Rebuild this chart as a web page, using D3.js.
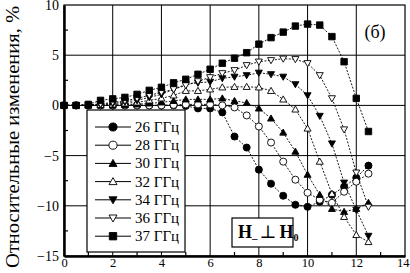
<!DOCTYPE html>
<html>
<head>
<meta charset="utf-8">
<script src="https://cdn.jsdelivr.net/npm/d3@7"></script>
<style>
  body { margin: 0; background: #fff; }
  svg { display: block; }
  text { font-family: 'Liberation Serif', 'DejaVu Serif', serif; fill: #000; }
</style>
</head>
<body>
<svg width="410" height="273"></svg>
<script>
const xs = [0, 0.5, 1, 1.5, 2, 2.5, 3, 3.5, 4, 4.5, 5, 5.5, 6, 6.5, 7, 7.5, 8, 8.5, 9, 9.5, 10, 10.5, 11, 11.5, 12, 12.5];

const f26 = [0, 0, 0, 0, 0, 0, 0, 0, 0, 0, -0.05, -0.3, -0.3, -0.7, -3.1, -4.2, -6.4, -7.8, -9.0, -9.9, -10.1, -9.6, -8.9, -8.1, -7.2, -6.0];
const f28 = [0, 0, 0, 0, 0, 0, 0, 0, 0, 0.05, 0.1, 0.1, 0.1, 0.0, -0.2, -1.0, -2.1, -3.7, -5.6, -7.4, -8.7, -9.4, -9.7, -8.6, -7.6, -6.8];
const f30 = [0, 0, 0, 0, 0, 0.05, 0.1, 0.2, 0.3, 0.45, 0.6, 0.6, 0.6, 0.7, 0.45, 0.25, -0.3, -1.3, -2.7, -4.6, -6.9, -8.9, -10.3, -10.6, -10.3, -9.7];
const f32 = [0, 0, 0, 0.05, 0.1, 0.2, 0.3, 0.5, 0.7, 1.0, 1.45, 1.45, 1.6, 1.8, 1.85, 1.85, 1.8, 1.45, 0.6, -0.4, -2.3, -5.6, -8.8, -11.1, -12.9, -13.6];
const f34 = [0, 0, 0, 0.1, 0.2, 0.35, 0.5, 0.8, 1.1, 1.6, 2.1, 2.25, 2.35, 2.7, 2.85, 3.0, 3.25, 3.1, 2.85, 2.1, 1.0, -1.05, -3.8, -7.7, -10.4, -13.0];
const f36 = [0, 0, 0.05, 0.15, 0.3, 0.45, 0.7, 1.0, 1.3, 1.6, 2.0, 2.4, 2.8, 3.2, 3.5, 4.0, 4.35, 4.5, 4.65, 4.6, 4.2, 3.0, 0.7, -2.4, -6.7, -10.1];
const f37 = [0, 0, 0.1, 0.5, 0.65, 0.8, 1.1, 1.5, 1.8, 2.25, 2.6, 3.1, 3.6, 4.2, 4.7, 5.25, 6.1, 6.75, 7.3, 7.9, 8.1, 8.0, 6.85, 4.35, 0.7, -2.6];

const seriesNames = ['26 ГГц', '28 ГГц', '30 ГГц', '32 ГГц', '34 ГГц', '36 ГГц', '37 ГГц'];
const seriesValues = [f26, f28, f30, f32, f34, f36, f37];
const seriesMarkers = ['circle', 'circle', 'triUp', 'triUp', 'triDown', 'triDown', 'square'];
const seriesFilled = [true, false, true, false, true, false, true];

const xTicks = [0, 2, 4, 6, 8, 10, 12, 14];
const yTicks = [-15, -10, -5, 0, 5, 10];

const yTitle = 'Относительные изменения, %';
const panelLabel = '(б)';

const serif = "'Liberation Serif', 'DejaVu Serif', serif";

const svg = d3.select('svg');
const margin = { top: 5, left: 64, right: 5, bottom: 17 };
const width = +svg.attr('width');
const height = +svg.attr('height');
const innerWidth = width - margin.left - margin.right;
const innerHeight = height - margin.top - margin.bottom;

const root = svg.append('g')
  .attr('transform', `translate(${margin.left}, ${margin.top})`);

const xScale = d3.scaleLinear().domain([0, 14]).range([0, innerWidth]);
const yScale = d3.scaleLinear().domain([-15, 10]).range([innerHeight, 0]);

// grid
root.append('g')
  .selectAll('line')
  .data(xTicks.slice(1, -1))
  .enter().append('line')
    .attr('x1', d => xScale(d)).attr('x2', d => xScale(d))
    .attr('y1', 0).attr('y2', innerHeight)
    .attr('stroke', '#000').attr('stroke-width', 1);
root.append('g')
  .selectAll('line')
  .data(yTicks.slice(1, -1))
  .enter().append('line')
    .attr('y1', d => yScale(d)).attr('y2', d => yScale(d))
    .attr('x1', 0).attr('x2', innerWidth)
    .attr('stroke', '#000').attr('stroke-width', 1);

// frame top / right
root.append('rect')
  .attr('x', 0).attr('y', 0)
  .attr('width', innerWidth).attr('height', innerHeight)
  .attr('fill', 'none').attr('stroke', '#000').attr('stroke-width', 1.2);

// minor ticks
const xMinor = d3.range(1, 14, 2);
const yMinor = d3.range(-12.5, 10, 5);
root.append('g').selectAll('line')
  .data(xMinor).enter().append('line')
    .attr('x1', d => xScale(d)).attr('x2', d => xScale(d))
    .attr('y1', innerHeight).attr('y2', innerHeight - 4)
    .attr('stroke', '#000').attr('stroke-width', 1.2);
root.append('g').selectAll('line')
  .data(yMinor).enter().append('line')
    .attr('y1', d => yScale(d)).attr('y2', d => yScale(d))
    .attr('x1', 0).attr('x2', 4)
    .attr('stroke', '#000').attr('stroke-width', 1.2);

// axes
const xAxis = d3.axisBottom(xScale).tickValues(xTicks).tickSize(0).tickPadding(0);
const yAxis = d3.axisLeft(yScale).tickValues(yTicks).tickSize(0).tickPadding(5);

const xAxisGroup = root.append('g')
  .attr('transform', `translate(0, ${innerHeight})`)
  .call(xAxis);
const yAxisGroup = root.append('g').call(yAxis);
[xAxisGroup, yAxisGroup].forEach(g => {
  g.attr('font-family', serif).attr('font-size', 14);
  g.select('.domain').attr('stroke', '#000').attr('stroke-width', 2.5);
});
xAxisGroup.attr('font-size', 12.5);
xAxisGroup.selectAll('text').attr('y', 11).attr('dy', 0);
xAxisGroup.selectAll('.tick')
  .filter(d => d === 14)
  .select('text').attr('text-anchor', 'end').attr('dx', 4);

// markers
const markerPath = (type, s) => {
  if (type === 'circle') return d3.symbol(d3.symbolCircle, s * s * 0.8)();
  if (type === 'square') return d3.symbol(d3.symbolSquare, s * s * 0.85)();
  const h = s * 0.5;
  if (type === 'triUp') return `M0,${-h}L${h},${h * 0.75}L${-h},${h * 0.75}Z`;
  return `M0,${h}L${h},${-h * 0.75}L${-h},${-h * 0.75}Z`;
};

const line = d3.line()
  .x(d => xScale(d[0]))
  .y(d => yScale(d[1]));

seriesValues.forEach((vals, i) => {
  const pts = xs.map((x, j) => [x, vals[j]]);
  const g = root.append('g');
  g.append('path')
    .datum(pts)
    .attr('d', line)
    .attr('fill', 'none')
    .attr('stroke', '#000')
    .attr('stroke-width', 0.9)
    .attr('stroke-dasharray', '2,1.5');
  g.selectAll('path.m')
    .data(pts)
    .enter().append('path')
      .attr('class', 'm')
      .attr('transform', d => `translate(${xScale(d[0])}, ${yScale(d[1])})`)
      .attr('d', markerPath(seriesMarkers[i], 7))
      .attr('fill', seriesFilled[i] ? '#000' : '#fff')
      .attr('stroke', '#000')
      .attr('stroke-width', 0.9);
});

// legend
const legend = root.append('g');
legend.append('rect')
  .attr('x', 23).attr('y', 105)
  .attr('width', 98).attr('height', 142)
  .attr('fill', '#fff').attr('stroke', '#000').attr('stroke-width', 1.2);

seriesNames.forEach((name, i) => {
  const yy = 122 + i * 18.2;
  const g = legend.append('g').attr('transform', `translate(0, ${yy})`);
  g.append('line')
    .attr('x1', 31).attr('x2', 67).attr('y1', 0).attr('y2', 0)
    .attr('stroke', '#000').attr('stroke-width', 1);
  g.append('path')
    .attr('transform', 'translate(49, 0)')
    .attr('d', markerPath(seriesMarkers[i], 8))
    .attr('fill', seriesFilled[i] ? '#000' : '#fff')
    .attr('stroke', '#000').attr('stroke-width', 0.9);
  g.append('text')
    .attr('x', 71).attr('y', 5)
    .attr('font-size', 15)
    .text(name);
});

// H box
const hbox = root.append('g').attr('transform', 'translate(168, 213)');
hbox.append('rect')
  .attr('width', 61).attr('height', 29)
  .attr('fill', '#fff').attr('stroke', '#000').attr('stroke-width', 1.2);
const ht = hbox.append('text')
  .attr('x', 6).attr('y', 20)
  .attr('font-size', 18)
  .attr('font-weight', 'bold');
ht.append('tspan').text('H');
ht.append('tspan').attr('font-size', 11).text('_');
ht.append('tspan').attr('font-weight', 'normal').attr('dx', 2).text('⊥');
ht.append('tspan').attr('dx', 3).text('H');
ht.append('tspan').attr('font-size', 10).attr('dy', 3).text('0');

// panel label
root.append('text')
  .attr('x', 311).attr('y', 33)
  .attr('text-anchor', 'middle')
  .attr('font-size', 18)
  .text(panelLabel);

// y title
svg.append('text')
  .attr('transform', 'translate(19, 137) rotate(-90)')
  .attr('text-anchor', 'middle')
  .attr('font-size', 18)
  .attr('textLength', 262)
  .attr('lengthAdjust', 'spacingAndGlyphs')
  .text(yTitle);
</script>
</body>
</html>
